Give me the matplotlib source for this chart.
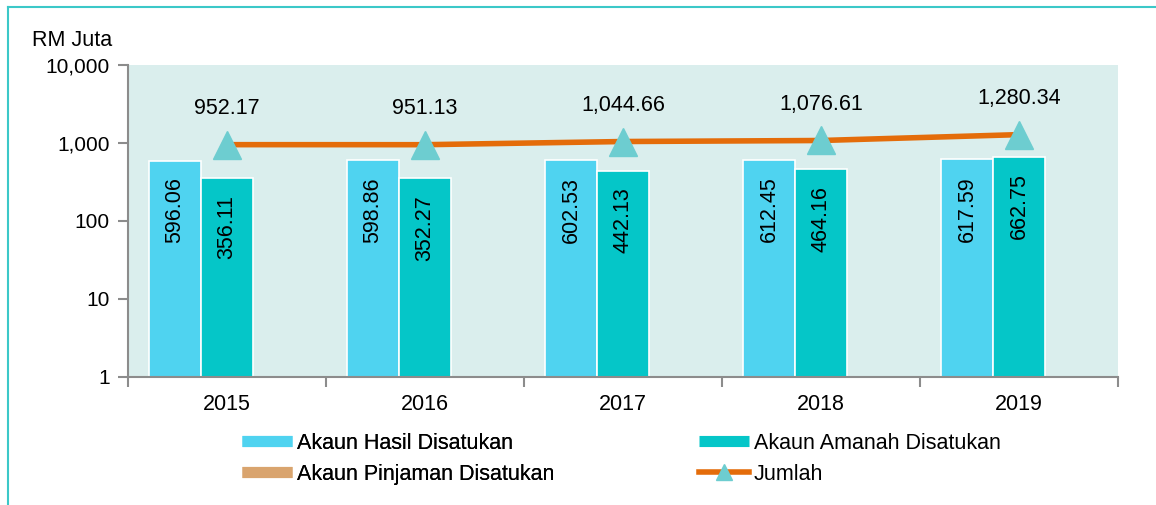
import numpy as np
import matplotlib
matplotlib.use("Agg")
import matplotlib.pyplot as plt
from matplotlib.lines import Line2D
from matplotlib.ticker import FuncFormatter, FixedLocator, NullLocator

plt.rcParams['font.family'] = ['Liberation Sans', 'DejaVu Sans']

years = ["2015", "2016", "2017", "2018", "2019"]
hasil = [596.06, 598.86, 602.53, 612.45, 617.59]
amanah = [356.11, 352.27, 442.13, 464.16, 662.75]
pinjaman = [0, 0, 0, 0, 0]
jumlah = [952.17, 951.13, 1044.66, 1076.61, 1280.34]

series_names = ["Akaun Hasil Disatukan", "Akaun Amanah Disatukan",
                "Akaun Pinjaman Disatukan", "Jumlah"]

C_HASIL = "#4fd3f0"
C_AMANAH = "#05c6c8"
C_PINJAMAN = "#d9a46e"
C_LINE = "#e46c0a"
C_MARKER = "#6dcdd0"
C_BG = "#daeeed"
C_SPINE = "#8c8c8c"

FS = 15.5

fig = plt.figure(figsize=(11.56, 5.05), dpi=100)
ax = fig.add_axes([128 / 1156, 1 - 377 / 505, 990 / 1156, 312 / 505])
ax.set_facecolor(C_BG)

x = np.arange(len(years))
w = 0.263


def fmt_num(v):
    return f"{v:,.2f}"


for off, vals, col in [(-w, hasil, C_HASIL), (0, amanah, C_AMANAH), (w, pinjaman, C_PINJAMAN)]:
    for xi, v in zip(x, vals):
        if v <= 0:
            continue
        ax.bar(xi + off, v, width=w, bottom=1e-3, color=col, edgecolor="white",
               linewidth=1.2, zorder=2)
        ax.annotate(fmt_num(v), (xi + off, v), xytext=(0, -12), textcoords="offset points",
                    rotation=90, ha="center", va="top", fontsize=FS, color="black", zorder=4)

ax.plot(x, jumlah, color=C_LINE, lw=4, zorder=3, solid_capstyle="butt")
ax.plot(x, jumlah, ls="none", marker="^", ms=20, color=C_MARKER, zorder=4)
for xi, v in zip(x, jumlah):
    ax.annotate(fmt_num(v), (xi, v), xytext=(0, 26), textcoords="offset points",
                ha="center", va="center", fontsize=FS, color="black")

ax.set_yscale("log")
ax.set_ylim(1, 10000)
ax.set_xlim(-0.5, len(years) - 0.5)
ax.yaxis.set_major_locator(FixedLocator([1, 10, 100, 1000, 10000]))
ax.yaxis.set_minor_locator(NullLocator())
ax.yaxis.set_major_formatter(FuncFormatter(lambda v, p: f"{int(round(v)):,}"))

# x ticks between categories, labels at centres
ax.set_xticks(np.arange(-0.5, len(years), 1.0))
ax.set_xticklabels([])
ax.set_xticks(x, minor=True)
ax.set_xticklabels(years, minor=True)
ax.tick_params(axis="x", which="minor", length=0, pad=12, labelsize=FS)
ax.tick_params(axis="x", which="major", length=7, width=1.5, color=C_SPINE)
ax.tick_params(axis="y", length=7, width=1.5, color=C_SPINE, labelsize=15, pad=6)

for s in ["top", "right"]:
    ax.spines[s].set_visible(False)
for s in ["left", "bottom"]:
    ax.spines[s].set_color(C_SPINE)
    ax.spines[s].set_linewidth(1.5)

fig.text(32 / 1156, 1 - 40 / 505, "RM Juta", fontsize=FS, va="center", ha="left")

h_hasil = Line2D([], [], color=C_HASIL, lw=8, solid_capstyle="butt")
h_pinjaman = Line2D([], [], color=C_PINJAMAN, lw=8, solid_capstyle="butt")
h_amanah = Line2D([], [], color=C_AMANAH, lw=8, solid_capstyle="butt")
h_jumlah = Line2D([], [], color=C_LINE, lw=4, marker="^", ms=11, mfc=C_MARKER, mec=C_MARKER)

leg_kw = dict(loc="upper left", frameon=False, fontsize=FS, handlelength=2.3,
              handletextpad=0.25, labelspacing=0.45, borderpad=0, borderaxespad=0)
leg1 = fig.legend([h_hasil, h_pinjaman], [series_names[0], series_names[2]],
                  bbox_to_anchor=(242 / 1156, 1 - 433 / 505), **leg_kw)
fig.add_artist(leg1)
fig.legend([h_amanah, h_jumlah], [series_names[1], series_names[3]],
           bbox_to_anchor=(699 / 1156, 1 - 433 / 505), **leg_kw)

# teal frame
fig.add_artist(Line2D([8 / 1156, 8 / 1156], [0, 1 - 7 / 505], color="#3cc8c8", lw=1.5))
fig.add_artist(Line2D([8 / 1156, 1], [1 - 7 / 505, 1 - 7 / 505], color="#3cc8c8", lw=1.5))

fig.savefig("out.png", dpi=100)
